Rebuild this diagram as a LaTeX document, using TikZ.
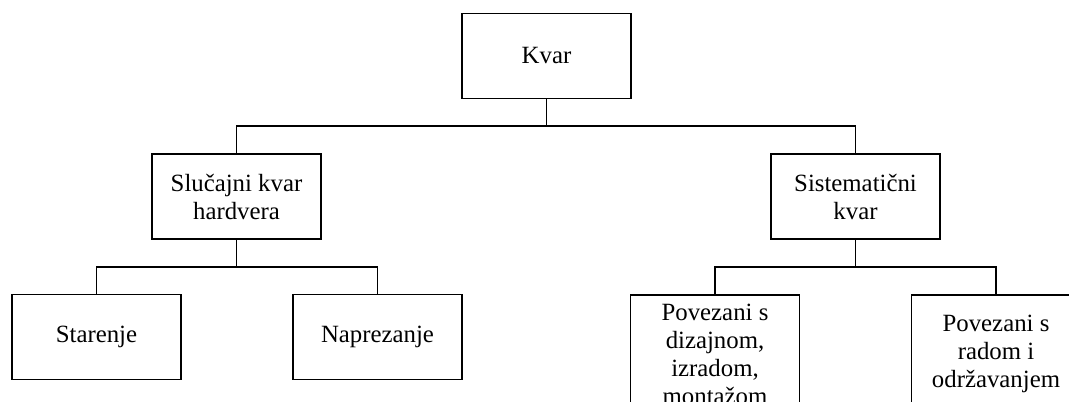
\documentclass[tikz,border=0pt]{standalone}
\usepackage{fontspec}
\setmainfont{Liberation Serif}
\begin{document}
\begin{tikzpicture}[x=0.5pt,y=-0.5pt,
  box/.style={draw,line width=0.9pt,align=center,inner sep=0pt,
    minimum width=84.5pt,minimum height=42.5pt,font=\fontsize{12.4}{14}\selectfont},
  tall/.style={box,minimum height=59pt},
  link/.style={line width=0.9pt}]
\useasboundingbox (0,0) rectangle (1069,401);
\clip (0,0) rectangle (1069,401);

% fault classes
\node[box] (kvar) at (546.5,56) {Kvar};
\node[box] (slu) at (236.5,196.5) {Slučajni kvar\\hardvera};
\node[box] (sys) at (855.5,196.5) {Sistematični\\kvar};
\node[box] (star) at (96.5,337) {Starenje};
\node[box] (napr) at (377.5,337) {Naprezanje};
\node[tall] (pov1) at (715,354) {Povezani s\\dizajnom,\\izradom,\\montažom};
\node[tall] (pov2) at (996,354) {Povezani s\\radom i\\održavanjem};

% branching points of the tree
\coordinate (b1) at (546.5,126);
\coordinate (b2) at (236.5,267);
\coordinate (b3) at (855.5,267);

\draw[link] (kvar.south) -- (b1);
\draw[link] (slu.north) |- (b1) -| (sys.north);
\draw[link] (slu.south) -- (b2);
\draw[link] (star.north) |- (b2) -| (napr.north);
\draw[link] (sys.south) -- (b3);
\draw[link] (pov1.north) |- (b3) -| (pov2.north);
\end{tikzpicture}
\end{document}
